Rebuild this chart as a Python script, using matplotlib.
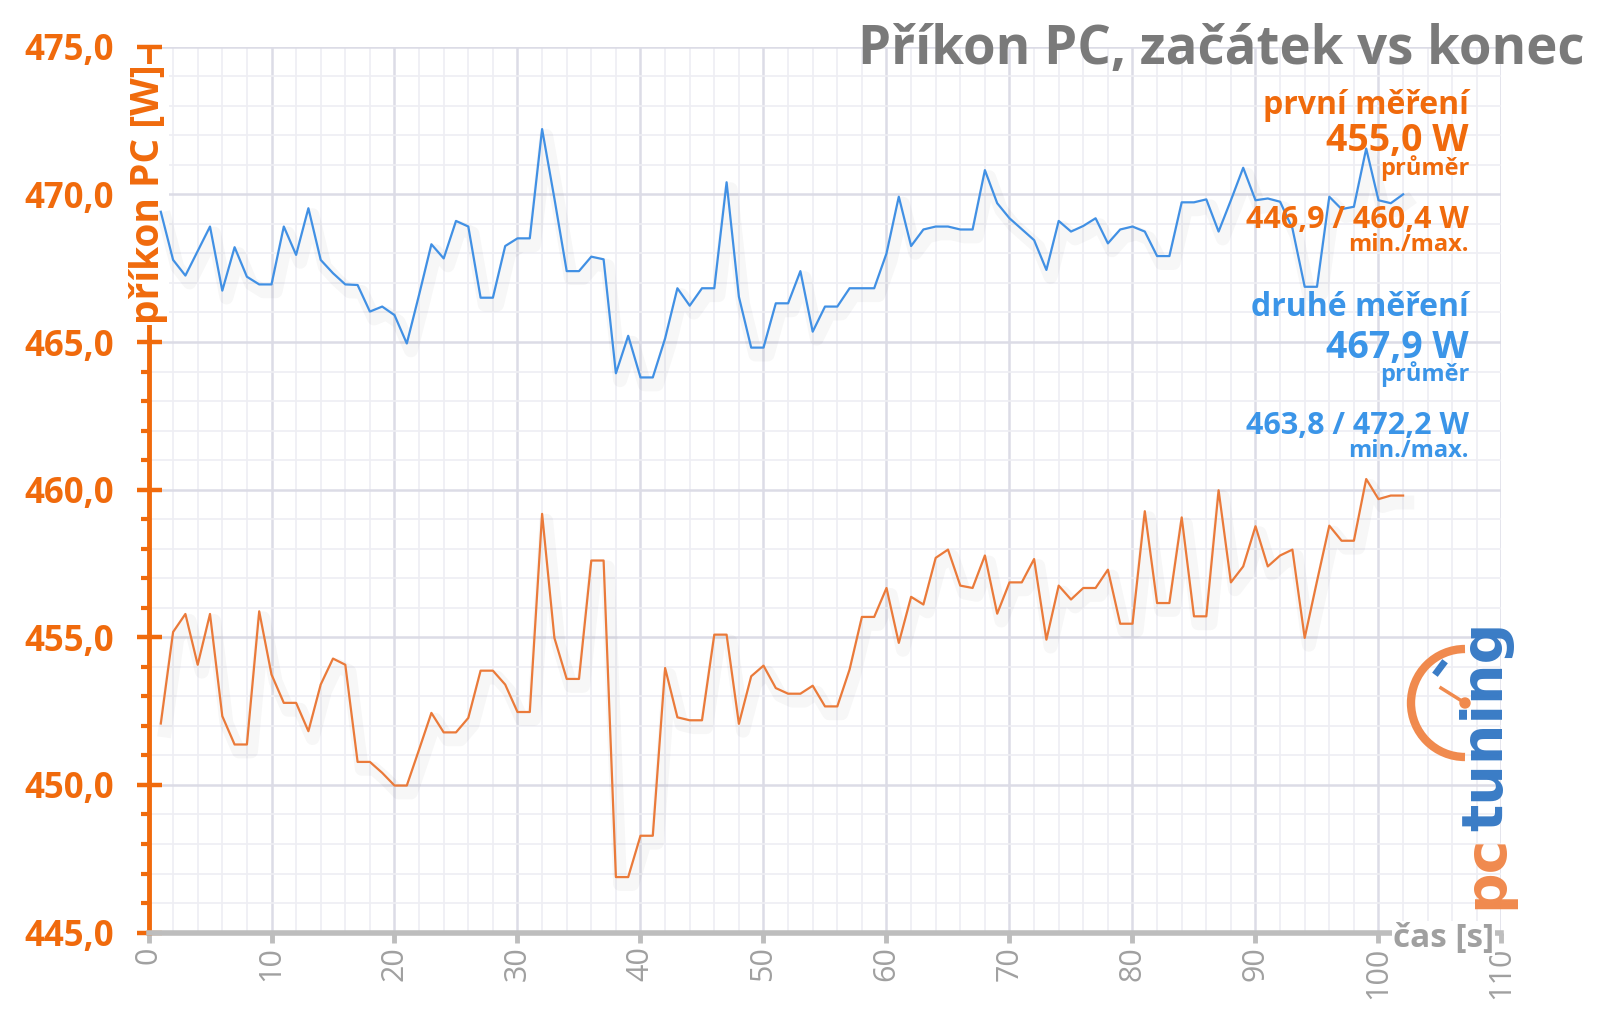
import matplotlib
matplotlib.use('Agg')
import matplotlib.pyplot as plt
import matplotlib.patheffects as pe
from matplotlib.patches import Arc, Circle
from matplotlib.ticker import MultipleLocator, FuncFormatter

plt.rcParams['font.family'] = ['Open Sans', 'DejaVu Sans']

# data
cas = list(range(1, 103))
prvni = [452.08, 455.18, 455.79, 454.07, 455.79, 452.33, 451.37, 451.37, 455.88, 453.74,
         452.78, 452.78, 451.82, 453.40, 454.28, 454.07, 450.78, 450.78, 450.41, 449.98,
         449.98, 451.20, 452.44, 451.78, 451.78, 452.27, 453.87, 453.87, 453.40, 452.47,
         452.47, 459.18, 454.98, 453.59, 453.59, 457.60, 457.60, 446.88, 446.88, 448.28,
         448.28, 453.96, 452.29, 452.19, 452.19, 455.09, 455.09, 452.07, 453.68, 454.04,
         453.28, 453.09, 453.09, 453.36, 452.66, 452.66, 453.91, 455.69, 455.69, 456.67,
         454.81, 456.37, 456.11, 457.69, 457.97, 456.75, 456.67, 457.77, 455.80, 456.86,
         456.86, 457.65, 454.92, 456.75, 456.28, 456.67, 456.67, 457.29, 455.46, 455.46,
         459.27, 456.16, 456.16, 459.06, 455.71, 455.71, 459.98, 456.86, 457.40, 458.76,
         457.40, 457.77, 457.97, 454.98, 456.90, 458.78, 458.27, 458.27, 460.36, 459.68,
         459.80, 459.80]
druhe = [469.41, 467.78, 467.25, 468.08, 468.91, 466.74, 468.21, 467.21, 466.95, 466.95,
         468.91, 467.95, 469.53, 467.78, 467.33, 466.95, 466.93, 466.03, 466.20, 465.91,
         464.95, 466.60, 468.31, 467.83, 469.10, 468.91, 466.50, 466.50, 468.25, 468.51,
         468.51, 472.21, 469.86, 467.40, 467.40, 467.89, 467.80, 463.94, 465.21, 463.80,
         463.80, 465.12, 466.82, 466.23, 466.82, 466.82, 470.41, 466.53, 464.81, 464.81,
         466.31, 466.31, 467.40, 465.35, 466.20, 466.20, 466.82, 466.82, 466.82, 468.00,
         469.92, 468.25, 468.81, 468.91, 468.91, 468.81, 468.81, 470.82, 469.70, 469.19,
         468.82, 468.45, 467.44, 469.10, 468.74, 468.93, 469.19, 468.34, 468.81, 468.91,
         468.74, 467.91, 467.91, 469.73, 469.73, 469.83, 468.74, 469.80, 470.90, 469.80,
         469.86, 469.75, 468.85, 466.87, 466.87, 469.92, 469.50, 469.58, 471.55, 469.80,
         469.70, 470.00]

x_ticks = list(range(0, 111, 10))
y_ticks = [445, 450, 455, 460, 465, 470, 475]

oranzova = '#f06a0c'
modra = '#3b95e8'
cara_or = '#ea7a3a'
cara_mo = '#4190e4'
seda = '#a0a0a0'

W, H = 1600, 1017
def px(x, y):
    return x / W, 1 - y / H

fig = plt.figure(figsize=(16, 10.17), dpi=100)
ax = fig.add_axes([148.5 / W, 1 - 932.6 / H, 1353 / W, 885.9 / H])

stin = [pe.SimpleLineShadow(offset=(3, -5), shadow_color='k', alpha=0.03, linewidth=10), pe.Normal()]
ax.plot(cas, druhe, color=cara_mo, lw=1.6, path_effects=stin, zorder=3)
ax.plot(cas, prvni, color=cara_or, lw=1.6, path_effects=stin, zorder=3)

ax.set_xlim(0, 110)
ax.set_ylim(445, 475)
ax.set_xticks(x_ticks)
ax.set_yticks(y_ticks)
ax.xaxis.set_minor_locator(MultipleLocator(2))
ax.yaxis.set_minor_locator(MultipleLocator(1))
ax.yaxis.set_major_formatter(FuncFormatter(lambda v, p: f'{v:.1f}'.replace('.', ',')))
ax.grid(which='major', color='#dcdce6', lw=1.8, zorder=0)
ax.grid(which='minor', color='#eeeef3', lw=1.2, zorder=0)
ax.set_axisbelow(True)

for s in ['top', 'right']:
    ax.spines[s].set_visible(False)
ax.spines['left'].set_color(oranzova)
ax.spines['left'].set_linewidth(3.5)
ax.spines['bottom'].set_color('#bdbdbd')
ax.spines['bottom'].set_linewidth(4)

ax.tick_params(axis='y', which='major', direction='inout', length=18, width=3.2,
               color=oranzova, labelcolor=oranzova, labelsize=25, pad=16)
ax.tick_params(axis='y', which='minor', direction='out', length=6, width=3, color=oranzova)
for t in ax.get_yticklabels():
    t.set_fontweight('bold')
ax.tick_params(axis='x', which='major', direction='out', length=7, width=3.5,
               color='#bdbdbd', labelcolor=seda, labelsize=22, labelrotation=90, pad=3)
ax.tick_params(axis='x', which='minor', length=0)

# popisek osy lezi pod carami, ale nad spine
ax.text(0, 470.0, 'příkon PC [W]', rotation=90, ha='center', va='center', color=oranzova,
        fontsize=28, fontweight='bold', zorder=2.7, clip_on=False,
        bbox=dict(facecolor='white', edgecolor='none', pad=0.5))
ax.text(109.4, 444.8, 'čas [s]', ha='right', va='center', color=seda, fontsize=24,
        fontweight='bold', zorder=5, clip_on=False,
        bbox=dict(facecolor='white', edgecolor='none', pad=1))

fig.text(*px(1584, 50), 'Příkon PC, začátek vs konec', ha='right', va='center',
         color='#7a7a7a', fontsize=38, fontweight='bold')

popisky = [
    ('první měření', 105, 23, oranzova),
    ('455,0 W', 141, 27, oranzova),
    ('průměr', 168, 17, oranzova),
    ('446,9 / 460,4 W', 220, 22, oranzova),
    ('min./max.', 245, 17, oranzova),
    ('druhé měření', 308, 23, modra),
    ('467,9 W', 348, 27, modra),
    ('průměr', 374, 17, modra),
    ('463,8 / 472,2 W', 426, 22, modra),
    ('min./max.', 451, 17, modra),
]
for text, y, fs, c in popisky:
    fig.text(*px(1469, y), text, ha='right', va='center', color=c, fontsize=fs,
             fontweight='bold', zorder=6)

# logo
lax = fig.add_axes([0, 0, 1, 1], zorder=10)
lax.set_xlim(0, W)
lax.set_ylim(H, 0)
lax.axis('off')
lax.patch.set_alpha(0)
lax.add_patch(Arc((1465, 703), 108, 108, theta1=90, theta2=270, color='#f08a4e', lw=6))
lax.plot([1465, 1441], [703, 688], color='#f08a4e', lw=2.5)
lax.add_patch(Circle((1465, 703), 5, color='#f08a4e'))
lax.plot([1437, 1443], [672, 664], color='#3a7cc6', lw=5)
lax.text(1487, 726, 'tuning', rotation=90, ha='center', va='center', color='#3a7cc6',
         fontsize=41, fontweight='bold', family='DejaVu Sans')
lax.text(1487, 872, 'pc', rotation=90, ha='center', va='center', color='#f08a4e',
         fontsize=41, fontweight='bold', family='DejaVu Sans')

fig.savefig('out.png', dpi=100, facecolor='white')
